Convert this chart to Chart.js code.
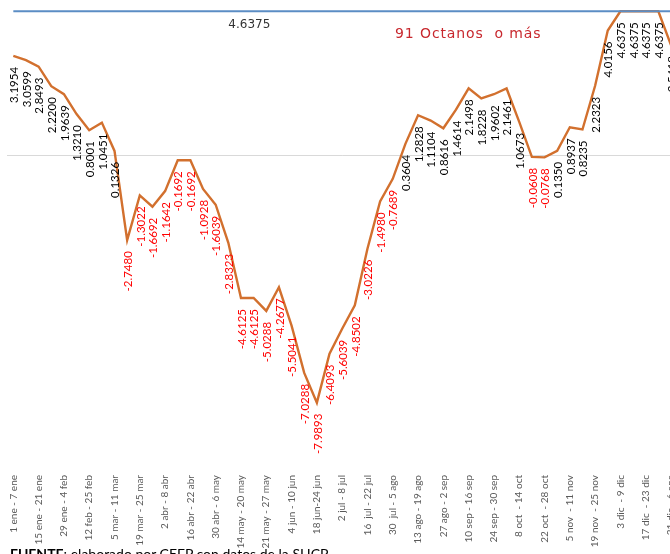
<!DOCTYPE html>
<html>
<head>
<meta charset="utf-8">
<script src="https://cdn.jsdelivr.net/npm/chart.js@4"></script>
<style>
  html, body { margin: 0; padding: 0; background: #fff; overflow: hidden; width: 670px; height: 554px; }
  #wrap { position: absolute; left: 0; top: 0; width: 685px; height: 554px; }
  #note { position: absolute; left: 395px; top: 25px; font-family: "DejaVu Sans", sans-serif; font-size: 14px; letter-spacing: 0.9px; color: #C8282E; white-space: pre; }
  #src { position: absolute; left: 10px; top: 545px; font-family: Lato, sans-serif; font-size: 14px; color: #000; white-space: pre; }
</style>
</head>
<body>
<div id="wrap"><canvas id="c" width="685" height="554"></canvas></div>
<div id="note">91 Octanos  o más</div>
<div id="src"><b>FUENTE</b>: elaborado por CEFP con datos de la SHCP</div>
<script>
// Visible week labels (every other category is shown on the axis)
const shownWeeks = [
  "1 ene - 7 ene", "15 ene - 21 ene", "29 ene - 4 feb", "12 feb - 25 feb", "5 mar - 11 mar",
  "19 mar - 25 mar", "2 abr - 8 abr", "16 abr - 22 abr", "30 abr - 6 may", "14 may - 20 may",
  "21 may - 27 may", "4 jun - 10 jun", "18 jun-24 jun", "2 jul - 8 jul", "16  jul - 22 jul",
  "30  jul - 5 ago", "13 ago - 19 ago", "27 ago - 2 sep", "10 sep - 16 sep", "24 sep - 30 sep",
  "8 oct  - 14 oct", "22 oct  - 28 oct", "5 nov  - 11 nov", "19 nov  - 25 nov", "3 dic  - 9 dic",
  "17 dic  - 23 dic", "31 dic - 6 ene"
];
// Price difference series
const priceDiff = [
  3.1954, 3.0599, 2.8493, 2.2200, 1.9639, 1.3210, 0.8001, 1.0451, 0.1326, -2.7480,
  -1.3022, -1.6692, -1.1642, -0.1692, -0.1692, -1.0928, -1.6039, -2.8323, -4.6125, -4.6125,
  -5.0288, -4.2677, -5.5041, -7.0288, -7.9893, -6.4093, -5.6039, -4.8502, -3.0226, -1.4980,
  -0.7689, 0.3604, 1.2828, 1.1104, 0.8616, 1.4614, 2.1498, 1.8228, 1.9602, 2.1461,
  1.0673, -0.0608, -0.0768, 0.1350, 0.8937, 0.8235, 2.2323, 4.0156, 4.6375, 4.6375,
  4.6375, 4.6375, 3.5418
];
// Reference level (constant line)
const referenceLevel = 4.6375;

const categories = [];
shownWeeks.forEach((w, i) => { categories.push(w); if (i < shownWeeks.length - 1) categories.push(""); });
const referenceLine = categories.map(() => referenceLevel);

const zeroLinePlugin = {
  id: 'zeroLine',
  beforeDatasetsDraw(chart) {
    const { ctx, chartArea, scales } = chart;
    const y = Math.round(scales.y.getPixelForValue(0)) + 0.5;
    ctx.save();
    ctx.strokeStyle = '#d9d9d9';
    ctx.lineWidth = 1;
    ctx.beginPath();
    ctx.moveTo(chartArea.left, y);
    ctx.lineTo(chartArea.right, y);
    ctx.stroke();
    ctx.restore();
  }
};

const labelsPlugin = {
  id: 'valueLabels',
  afterDatasetsDraw(chart) {
    const { ctx, scales } = chart;
    const meta = chart.getDatasetMeta(1);
    ctx.save();
    ctx.font = '11.5px Lato, sans-serif';
    ctx.textAlign = 'right';
    ctx.textBaseline = 'middle';
    meta.data.forEach((pt, i) => {
      const v = priceDiff[i];
      ctx.fillStyle = v < 0 ? '#ff0000' : '#000000';
      ctx.setTransform(1, 0, 0, 1, 0, 0);
      ctx.translate(pt.x + 1, pt.y + 11);
      ctx.rotate(-Math.PI / 2);
      ctx.fillText(v.toFixed(4), 0, 0);
    });
    ctx.setTransform(1, 0, 0, 1, 0, 0);
    // reference label
    const m0 = chart.getDatasetMeta(0).data;
    const x = (m0[18].x + m0[19].x) / 2 + 2;
    const y = scales.y.getPixelForValue(referenceLevel) + 14;
    ctx.font = '12px "DejaVu Sans", sans-serif';
    ctx.fillStyle = '#333333';
    ctx.textAlign = 'center';
    ctx.fillText(referenceLevel.toFixed(4), x, y);
    ctx.restore();
  }
};

new Chart(document.getElementById('c'), {
  type: 'line',
  data: {
    labels: categories,
    datasets: [
      {
        label: 'Referencia',
        data: referenceLine,
        borderColor: '#5B8DC4',
        borderWidth: 2.2,
        pointRadius: 0,
        tension: 0
      },
      {
        label: 'Diferencia',
        data: priceDiff,
        borderColor: '#D2702E',
        borderWidth: 2.4,
        pointRadius: 0,
        tension: 0
      }
    ]
  },
  options: {
    responsive: false,
    animation: false,
    devicePixelRatio: 1,
    layout: { padding: { left: 7, right: 0, top: 0, bottom: 0 } },
    plugins: { legend: { display: false }, tooltip: { enabled: false } },
    scales: {
      x: {
        offset: true,
        grid: { display: false },
        border: { display: false },
        ticks: {
          autoSkip: false,
          maxRotation: 90,
          minRotation: 90,
          color: '#595959',
          padding: 2,
          font: { family: 'Lato, sans-serif', size: 10 }
        },
        afterFit(scale) { scale.height = 89; }
      },
      y: {
        display: false,
        min: -10,
        max: 5
      }
    }
  },
  plugins: [zeroLinePlugin, labelsPlugin]
});
</script>
</body>
</html>
